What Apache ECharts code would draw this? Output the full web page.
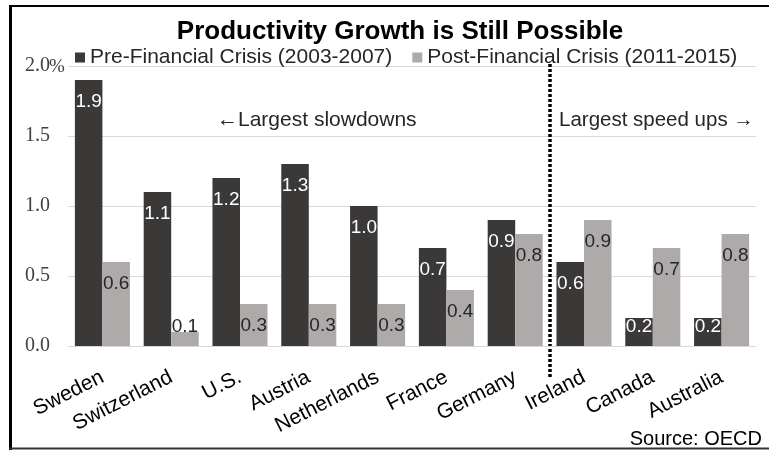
<!DOCTYPE html>
<html><head><meta charset="utf-8">
<script src="https://cdn.jsdelivr.net/npm/echarts@6/dist/echarts.min.js"></script>
<style>html,body{margin:0;padding:0;background:#fff}#c{width:769px;height:453px}</style>
</head><body><div id="c"></div>
<script>
const categories = ['Sweden','Switzerland','U.S.','Austria','Netherlands','France','Germany','Ireland','Canada','Australia'];
const preCrisis  = [1.9, 1.1, 1.2, 1.3, 1.0, 0.7, 0.9, 0.6, 0.2, 0.2];
const postCrisis = [0.6, 0.1, 0.3, 0.3, 0.3, 0.4, 0.8, 0.9, 0.7, 0.8];
const seriesNames = ['Pre-Financial Crisis (2003-2007)', 'Post-Financial Crisis (2011-2015)'];
const titleText = 'Productivity Growth is Still Possible';
const annSlow = '\u2190Largest slowdowns';
const annFast = 'Largest speed ups \u2192';
const sourceText = 'Source: OECD';
const yMin = 0, yMax = 2, yInterval = 0.5;

const SANS = '"Liberation Sans", Arial, sans-serif';
const SERIF = '"Liberation Serif", "Times New Roman", serif';
const DARK = '#3b3838', LIGHT = '#aeaaaa';

const chart = echarts.init(document.getElementById('c'), null, {renderer: 'canvas'});

function labelCfg(color) {
  return {show: true, color: color, fontFamily: SANS, fontSize: 19,
    position: ['50%', 22], align: 'center', verticalAlign: 'middle',
    formatter: p => Number(p.value).toFixed(1)};
}

const option = {
  animation: false,
  backgroundColor: '#fff',
  title: {text: titleText, left: 395, textAlign: 'center', top: 14,
    textStyle: {fontSize: 26, fontWeight: 'bold', fontFamily: SANS, color: '#000'}},
  legend: {data: seriesNames, icon: 'rect', itemWidth: 10, itemHeight: 10, itemGap: 20,
    left: 70, top: 42, textStyle: {fontSize: 21, fontFamily: SANS, color: '#262626'}},
  grid: {left: 68, right: 13, top: 66, bottom: 107, containLabel: false},
  xAxis: {type: 'category', data: categories,
    axisLine: {lineStyle: {color: '#d9d9d9'}}, axisTick: {show: false},
    axisLabel: {interval: 0, rotate: 27, margin: 30, fontSize: 21, fontFamily: SANS, color: '#000'}},
  yAxis: {type: 'value', min: yMin, max: yMax, interval: yInterval,
    axisLine: {show: false}, axisTick: {show: false},
    axisLabel: {formatter: v => v.toFixed(1), fontFamily: SERIF, fontSize: 20, color: '#404040', margin: 18},
    splitLine: {lineStyle: {color: '#d9d9d9'}}},
  series: [
    {name: seriesNames[0], type: 'bar', data: preCrisis, barGap: '0%', barCategoryGap: '20%',
      itemStyle: {color: DARK}, label: labelCfg('#fff')},
    {name: seriesNames[1], type: 'bar', data: postCrisis, barGap: '0%', barCategoryGap: '20%',
      itemStyle: {color: LIGHT}, label: labelCfg('#262626')}
  ]
};
chart.setOption(option);

const y0 = chart.convertToPixel({yAxisIndex: 0}, 0);
function items(arr) {
  return arr.map(v => {
    const h = y0 - chart.convertToPixel({yAxisIndex: 0}, v);
    return {value: v, label: {position: ['50%', Math.min(22, h - 19)]}};
  });
}
const xG = chart.convertToPixel({xAxisIndex: 0}, 'Germany');
const xI = chart.convertToPixel({xAxisIndex: 0}, 'Ireland');
const xd = Math.round((xG + xI) / 2);
const yTop = chart.convertToPixel({yAxisIndex: 0}, yMax);

chart.setOption({
  series: [{data: items(preCrisis)}, {data: items(postCrisis)}],
  graphic: [
    {type: 'line', shape: {x1: 10.5, y1: 5, x2: 10.5, y2: 450}, style: {stroke: '#000', lineWidth: 3}},
    {type: 'line', shape: {x1: 9, y1: 6, x2: 769, y2: 6}, style: {stroke: '#000', lineWidth: 2}},
    {type: 'line', shape: {x1: 9, y1: 448.5, x2: 769, y2: 448.5}, style: {stroke: '#333', lineWidth: 2}},
    {type: 'line', shape: {x1: xd, y1: 64, x2: xd, y2: 378}, style: {stroke: '#000', lineWidth: 3.5, lineDash: [3, 2]}},
    {type: 'text', x: 217, y: 120, style: {text: annSlow, fontSize: 21, fontFamily: SANS, fill: '#262626', align: 'left', verticalAlign: 'middle'}},
    {type: 'text', x: 559, y: 120, style: {text: annFast, fontSize: 20.5, fontFamily: SANS, fill: '#262626', align: 'left', verticalAlign: 'middle'}},
    {type: 'text', x: 49, y: yTop + 1, style: {text: '%', fontSize: 19, fontFamily: SERIF, fill: '#404040', align: 'left', verticalAlign: 'middle'}},
    {type: 'text', x: 762, y: 439, style: {text: sourceText, fontSize: 20, fontFamily: SANS, fill: '#000', align: 'right', verticalAlign: 'middle'}}
  ]
});
</script>
</body></html>
